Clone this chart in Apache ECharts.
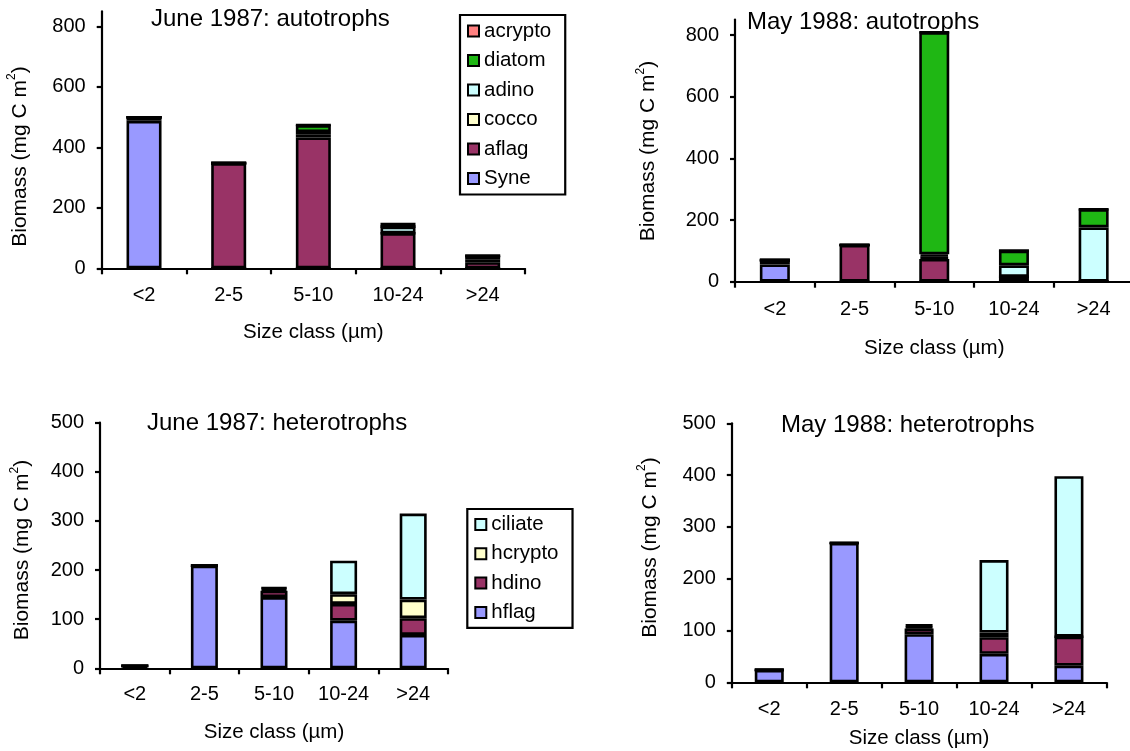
<!DOCTYPE html>
<html>
<head>
<meta charset="utf-8">
<script src="https://cdn.jsdelivr.net/npm/echarts@6/dist/echarts.min.js"></script>
<style>
  html, body { margin: 0; padding: 0; background: #fff; }
  #chart { width: 1130px; height: 751px; }
</style>
</head>
<body>
<div id="chart"></div>
<script>
// Size classes shared by all four panels
const sizeClasses = ['<2', '2-5', '5-10', '10-24', '>24'];

// Autotroph biomass (mg C m-2), June 1987
const jun87Syne    = [488, 0, 0, 0, 0];
const jun87Aflag   = [12, 348, 433, 116, 20];
const jun87Cocco   = [0, 0, 9, 0, 10];
const jun87Adino   = [0, 0, 9, 22, 11];
const jun87Diatom  = [0, 0, 23, 0, 0];
const jun87Acrypto = [0, 0, 0, 13, 0];

// Autotroph biomass (mg C m-2), May 1988
const may88Syne    = [56, 0, 0, 0, 0];
const may88Aflag   = [14, 119, 74, 16, 0];
const may88Cocco   = [0, 0, 7, 0, 0];
const may88Adino   = [0, 0, 8, 37, 176];
const may88Diatom  = [0, 0, 720, 48, 59];
const may88Acrypto = [0, 0, 0, 0, 0];

// Heterotroph biomass (mg C m-2), June 1987
const jun87Hflag   = [5, 209, 145, 97, 68];
const jun87Hdino   = [0, 0, 13, 34, 34];
const jun87Hcrypto = [0, 0, 4, 20, 38];
const jun87Ciliate = [0, 0, 3, 68, 175];

// Heterotroph biomass (mg C m-2), May 1988
const may88Hflag   = [24, 269, 93, 55, 32];
const may88Hdino   = [0, 0, 11, 32, 56];
const may88Hcrypto = [0, 0, 4, 9, 0];
const may88Ciliate = [0, 0, 4, 140, 310];

// Axis tick values
const autoTicks = [0, 200, 400, 600, 800];
const heteroTicks = [0, 100, 200, 300, 400, 500];

// Group names, bottom of stack first
const autoGroups = ['Syne', 'aflag', 'cocco', 'adino', 'diatom', 'acrypto'];
const heteroGroups = ['hflag', 'hdino', 'hcrypto', 'ciliate'];

const COLORS = {
  Syne: '#9999FF', aflag: '#993366', cocco: '#FFFFCC', adino: '#CCFFFF',
  diatom: '#1FB714', acrypto: '#FF8080',
  hflag: '#9999FF', hdino: '#993366', hcrypto: '#FFFFCC', ciliate: '#CCFFFF'
};

const FONT = '"Liberation Sans", Arial, Helvetica, sans-serif';

const panels = [
  { title: 'June 1987: autotrophs',   titlePos: [151, 7],   grid: { left: 101.7, top: 11.4, width: 423.3, height: 256.9 },
    max: 850, ticks: autoTicks, groups: autoGroups, barWidth: 35, nameGap: 53.5, labelMargin: 17,
    values: [jun87Syne, jun87Aflag, jun87Cocco, jun87Adino, jun87Diatom, jun87Acrypto], yTitle: [20, 156.5] },
  { title: 'May 1988: autotrophs',    titlePos: [747, 10],  grid: { left: 735, top: 19.6, width: 398.5, height: 262.1 },
    max: 850, ticks: autoTicks, groups: autoGroups, barWidth: 30, nameGap: 56.5, labelMargin: 18,
    values: [may88Syne, may88Aflag, may88Cocco, may88Adino, may88Diatom, may88Acrypto], yTitle: [648.6, 151] },
  { title: 'June 1987: heterotrophs', titlePos: [147, 411], grid: { left: 100, top: 422.7, width: 348, height: 245.6 },
    max: 500, ticks: heteroTicks, groups: heteroGroups, barWidth: 27, nameGap: 53.4, labelMargin: 16.5,
    values: [jun87Hflag, jun87Hdino, jun87Hcrypto, jun87Ciliate], yTitle: [22.5, 550] },
  { title: 'May 1988: heterotrophs',  titlePos: [781, 413], grid: { left: 731.8, top: 423.3, width: 374.6, height: 259 },
    max: 500, ticks: heteroTicks, groups: heteroGroups, barWidth: 29, nameGap: 46, labelMargin: 17.5,
    values: [may88Hflag, may88Hdino, may88Hcrypto, may88Ciliate], yTitle: [650, 547.5] }
];

const axisLineStyle = { color: '#000', width: 2.2 };

const grid = panels.map(p => Object.assign({ outerBoundsMode: 'none', containLabel: false }, p.grid));

const xAxis = panels.map((p, i) => ({
  gridIndex: i,
  type: 'category',
  data: sizeClasses,
  axisLine: { show: true, lineStyle: axisLineStyle },
  axisTick: { show: true, interval: 0, length: 6, lineStyle: axisLineStyle },
  axisLabel: { interval: 0, fontSize: 20, color: '#000', fontFamily: FONT, margin: p.labelMargin },
  splitLine: { show: false },
  name: 'Size class (\u00b5m)',
  nameLocation: 'middle',
  nameGap: p.nameGap,
  nameTextStyle: { fontSize: 20.5, color: '#000', fontFamily: FONT }
}));

const yAxis = panels.map((p, i) => ({
  gridIndex: i,
  type: 'value',
  min: 0,
  max: p.max,
  axisLine: { show: true, lineStyle: axisLineStyle },
  axisTick: { show: true, inside: false, length: 5, lineStyle: axisLineStyle, customValues: p.ticks },
  axisLabel: { fontSize: 20, color: '#000', fontFamily: FONT, margin: 16, customValues: p.ticks },
  splitLine: { show: false }
}));

const series = [];
panels.forEach((p, i) => {
  p.groups.forEach((g, k) => {
    series.push({
      name: g,
      type: 'bar',
      xAxisIndex: i,
      yAxisIndex: i,
      stack: 'panel' + i,
      barWidth: p.barWidth,
      data: p.values[k],
      itemStyle: { color: COLORS[g], borderColor: '#000', borderWidth: 2.6 },
      emphasis: { disabled: true }
    });
  });
});

const title = panels.map(p => ({
  text: p.title,
  left: p.titlePos[0],
  top: p.titlePos[1],
  padding: 0,
  textStyle: { fontSize: 24, fontWeight: 'normal', color: '#000', fontFamily: FONT }
}));

const legendCommon = {
  orient: 'vertical',
  icon: 'rect',
  itemWidth: 11,
  itemHeight: 11,
  itemGap: 8.5,
  borderColor: '#000',
  borderWidth: 2.2,
  backgroundColor: '#fff',
  selectedMode: false,
  itemStyle: { borderColor: '#000', borderWidth: 2 },
  textStyle: { fontSize: 20.5, lineHeight: 20, color: '#000', fontFamily: FONT }
};

const legend = [
  Object.assign({}, legendCommon, {
    data: autoGroups.slice().reverse(), left: 460, top: 15, padding: [5.5, 14, 5.5, 7]
  }),
  Object.assign({}, legendCommon, {
    data: heteroGroups.slice().reverse(), left: 467.3, top: 509, padding: [5, 14, 5, 7], itemGap: 8.3
  })
];

// Rotated y-axis titles with a superscript exponent
const graphic = panels.map(p => ({
  type: 'text',
  x: p.yTitle[0],
  y: p.yTitle[1],
  rotation: Math.PI / 2,
  style: {
    text: 'Biomass (mg C m{sup|2})',
    fontSize: 21,
    fontFamily: FONT,
    fill: '#000',
    align: 'center',
    verticalAlign: 'middle',
    lineHeight: 28,
    rich: {
      sup: { fontSize: 12, lineHeight: 12, verticalAlign: 'top', fontFamily: FONT, fill: '#000' }
    }
  }
}));

const option = {
  animation: false,
  backgroundColor: '#fff',
  title, legend, grid, xAxis, yAxis, series, graphic
};

const chart = echarts.init(document.getElementById('chart'), null, { renderer: 'canvas' });
chart.setOption(option);
</script>
</body>
</html>
